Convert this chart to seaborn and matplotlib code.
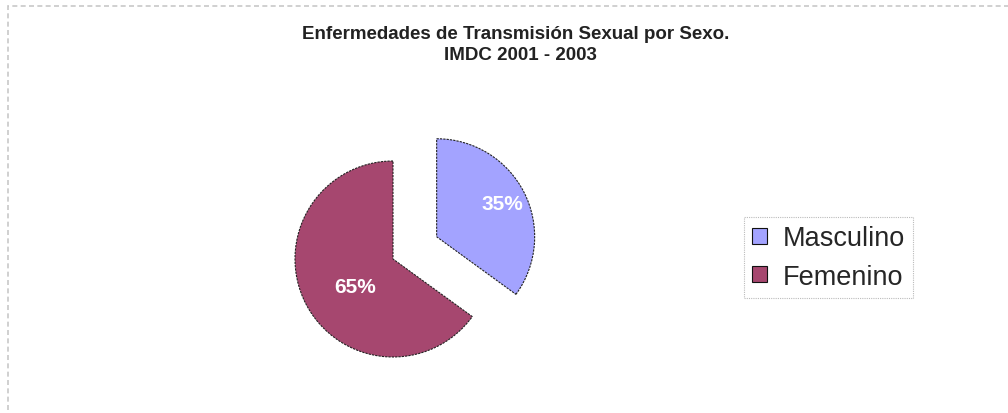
import matplotlib
matplotlib.use("Agg")
import matplotlib.pyplot as plt
import seaborn as sns
import numpy as np
from matplotlib.patches import Rectangle

sns.set_theme(style="white")
plt.rcParams['font.family'] = ['Liberation Sans', 'DejaVu Sans']

categories = ["Masculino", "Femenino"]
values = [35, 65]
colors = ["#A3A3FF", "#A6476F"]
title_lines = ["Enfermedades de Transmisión Sexual por Sexo.", "IMDC 2001 - 2003"]

W, H = 1008, 414
fig = plt.figure(figsize=(W / 100, H / 100), dpi=100)
fig.patch.set_facecolor("white")

# dashed chart-area border
fig.add_artist(Rectangle((8 / W, -0.05), 1.1, (H - 7) / H + 0.05, transform=fig.transFigure,
                         fill=False, edgecolor="#C8C8C8", linestyle=(0, (3, 2)), linewidth=1.2))

# axes: 1 data unit = 98 px, femenino apex at pixel (393, 260 from top)
px0, px1 = 200, 600
py0, py1 = 14, 314
cx, cy, r = 393, H - 260, 98
ax = fig.add_axes([px0 / W, py0 / H, (px1 - px0) / W, (py1 - py0) / H])

wedges, texts, autotexts = ax.pie(
    values, labels=None, colors=colors, startangle=90, counterclock=False,
    explode=[0.5, 0.0], autopct="%1.0f%%", pctdistance=0.6,
    wedgeprops=dict(edgecolor="#222222", linewidth=0.8, linestyle=(0, (2, 1))),
    textprops=dict(color="white", fontsize=15, fontweight="bold"))

# adjust label placement per slice
dists = [0.75, 0.48]
ang_off = [0.0, 9.0]
for w, t, d, o in zip(wedges, autotexts, dists, ang_off):
    ang = np.deg2rad((w.theta1 + w.theta2) / 2 + o)
    c = w.center
    t.set_position((c[0] + d * np.cos(ang), c[1] + d * np.sin(ang)))

ax.set_xlim((px0 - cx) / r, (px1 - cx) / r)
ax.set_ylim((py0 - cy) / r, (py1 - cy) / r)
ax.set_aspect("auto")
ax.axis("off")

fig.text(516 / W, 1 - 39 / H, title_lines[0], ha="center", va="baseline",
         fontsize=13.5, fontweight="bold", color="#222222")
fig.text(520 / W, 1 - 60 / H, title_lines[1], ha="center", va="baseline",
         fontsize=13.5, fontweight="bold", color="#222222")

leg = fig.legend(wedges, categories, loc="center", bbox_to_anchor=(828.5 / W, 1 - 258.5 / H),
                 frameon=True, fontsize=19.5, handlelength=0.55, handleheight=0.55,
                 handletextpad=0.55, labelspacing=0.45, borderpad=0.32, fancybox=False)
leg.get_frame().set_edgecolor("#AAAAAA")
leg.get_frame().set_linewidth(0.8)
leg.get_frame().set_linestyle((0, (1, 1)))
for h in leg.legend_handles:
    h.set_edgecolor("#111111")
    h.set_linestyle("-")

fig.savefig("out.png", dpi=100, facecolor="white")
